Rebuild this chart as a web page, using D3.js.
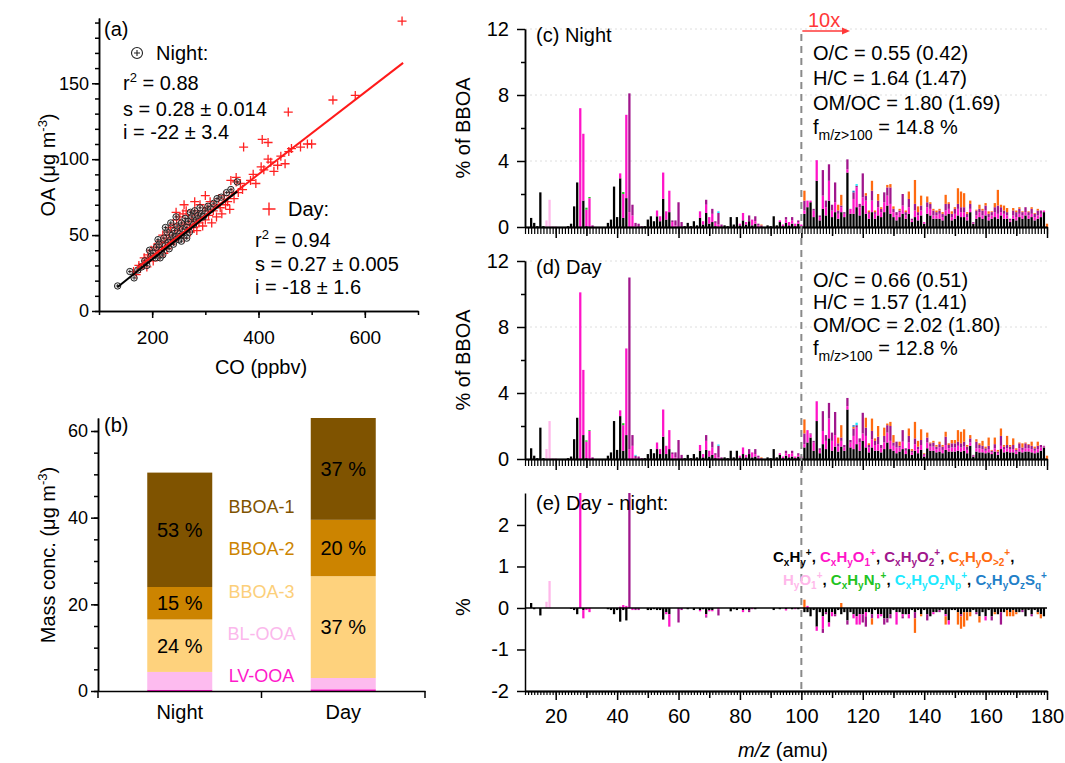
<!DOCTYPE html>
<html><head><meta charset="utf-8">
<script src="https://cdn.jsdelivr.net/npm/d3@7/dist/d3.min.js"></script>
<style>
html,body{margin:0;padding:0;background:#fff;}
svg{display:block;font-family:"Liberation Sans",Arial,Helvetica,sans-serif;}
</style></head>
<body>
<svg id="chart" width="1065" height="763"></svg>
<script>
// ================= DATA =================
// (a) OA vs CO scatter
const nightCO = [135,158,166,173,180,186,190,195,198,202,206,208,211,213,215,218,220,222,225,228,230,232,235,238,240,242,245,247,250,252,255,257,260,262,265,268,270,272,275,278,280,283,286,290,293,296,300,305,310,316,322,330,340,348,360,245,235,225,255,265];
const nightOA = [16.5,26,21.8,27,29,33,30,40,36,38,35,42,47,44,35,40,37,48,43,52,45,41,47,50,44,53,49,56,47,51,58,54,50,61,55,59,52,65,62,57,66,60,63,68,64,62,66,69,67,71,74,75,78,80,85,62,58,55,46,48];
const dayPoints = [[165,26],[170,24],[175,30],[178,28],[182,31],[185,35],[188,33],[190,29],[192,37],[195,34],[198,40],[200,36],[202,33],[205,42],[207,38],[210,44],[212,40],[214,36],[216,46],[218,42],[220,50],[222,38],[224,45],[226,48],[228,41],[230,52],[232,47],[234,55],[236,44],[238,50],[240,57],[242,46],[244,53],[246,60],[248,49],[250,55],[252,62],[254,51],[256,57],[258,64],[260,48],[262,58],[264,66],[266,54],[268,61],[270,57],[272,52],[274,63],[276,59],[278,55],[280,66],[282,60],[284,53],[286,64],[288,58],[290,70],[292,62],[295,56],[298,66],[300,60],[303,68],[306,63],[309,72],[312,58],[315,66],[318,70],[321,62],[325,74],[328,68],[331,64],[335,76],[338,70],[342,72],[346,67],[350,78],[354,74],[358,85],[362,78],[366,84],[370,80],[358,88],[348,86],[372,108],[385,86],[390,90],[395,84],[405,95],[410,93],[418,100],[423,98],[429,92],[436,96],[442,102],[450,97],[456,131],[457,105],[462,107],[479,108],[492,110],[407,113],[418,111],[500,110],[540,139],[582,142],[670,191],[300,76],[280,72],[260,70],[245,65]];
const nightFit = {slope:0.28, intercept:-22, from:135, to:360};
const dayFit = {slope:0.27, intercept:-18, from:172, to:672};

// (b) stacked mass concentrations
const factors = ["LV-OOA","BL-OOA","BBOA-3","BBOA-2","BBOA-1"];
const periods = ["Night","Day"];
const nightMass = [0.3,4.1,12.1,7.5,26.4];
const dayMass = [0.4,2.6,23.5,13.0,23.5];
const nightPct = ["","","24 %","15 %","53 %"];
const dayPct = ["","","37 %","20 %","37 %"];
const legendOrder = ["BBOA-1","BBOA-2","BBOA-3","BL-OOA","LV-OOA"];

// (c)-(e) mass spectra, m/z 12..180 ; values above m/z 100 shown x10
const mzValues = d3.range(12,181);
const nightCH = [
.55,.25,.05,2.1,.05,0,0,0,0,0,
0,0,.05,.2,1.25,2.7,0,1.6,.05,0,
0,0,0,0,0,.25,.45,2.45,.6,2.95,
.55,1.75,0,0,0,0,0,.05,.45,.65,
.35,.65,.35,1.7,.45,.9,0,0,0,0,
.05,.25,.05,.35,.1,.55,.15,.85,.2,.3,
.05,0,0,.1,.05,.6,.15,.6,.1,.4,
.15,.35,.1,.2,0,0,0,.1,.05,.65,
.1,.3,.05,.25,.1,.2,.05,.2,.05,.8,
1.2,1.5,.6,2.8,.4,1.1,.7,1.6,.6,.9,
.5,.9,.6,3.3,.8,.8,1.2,.7,1.3,.8,
.5,.9,.5,.7,.6,.9,1.3,.8,.6,.4,
.6,.8,.5,.8,.3,.6,.4,.7,.2,.8,
.7,.5,.5,.5,.4,.7,.8,.4,.5,.7,
.6,.6,.4,.9,.2,.5,.6,.5,.7,.4,
.5,.6,.5,.7,.5,.5,.3,.5,.4,.6,
.5,.7,.5,.6,.4,.5,.6,.9,0];
const nightO1 = [
0,0,0,0,0,0,0,0,0,0,
0,0,0,0,0,0,7.2,4.05,1.0,1.75,
0,0,0,0,0,0,0,0,0,.3,
1.45,5.05,.9,.7,.05,0,0,0,0,0,
0,.35,.3,1.6,.5,1.3,.3,.1,0,0,
0,0,0,0,0,.4,.2,.5,.4,.5,
.2,.15,0,0,0,0,0,0,.1,.45,
.15,0,.35,.15,.1,0,0,0,0,0,
0,.1,.1,.2,.2,.2,.15,.1,.1,.2,
.4,.1,.4,1.25,.2,.8,.5,1.2,.4,.6,
.3,.3,.2,.2,.3,.9,1.2,.5,.5,.8,
.3,.7,.3,.5,.3,.6,.6,.6,.3,.3,
.3,.5,.2,.4,.1,.4,.3,.3,.1,.4,
.4,.2,.2,.3,.2,.3,.3,.2,.3,.4,
.3,.3,.2,.2,.05,.2,.3,.2,.3,.2,
.2,.3,.3,.2,.3,.2,.1,.2,.2,.2,
.2,.2,.2,.2,.2,.2,.2,.1,0];
const nightO2 = [
0,0,0,0,0,0,0,0,0,0,
0,0,0,0,0,0,0,0,0,0,
.1,0,0,0,0,0,0,0,0,0,
0,0,7.2,.65,.2,.2,.05,0,0,0,
0,0,0,0,0,0,.1,.3,1.5,.3,
0,0,0,0,0,0,0,.3,0,.3,
.1,.7,.15,0,0,0,0,0,0,0,
0,.35,0,.3,.1,.1,0,0,0,0,
0,0,0,.15,0,.2,0,.1,0,.6,
0,0,.1,0,.1,1.55,.4,1.0,.35,1.2,
.2,.1,.1,.6,0,.4,.1,.2,1.45,.3,
.1,.6,.1,.4,.2,.6,.5,1.0,.2,.2,
.1,.7,.2,.5,.1,.4,.2,.3,0,.3,
.3,.3,.2,.2,.2,.4,.3,.2,.3,.3,
.3,.3,.2,.3,.05,.3,.2,.3,.3,.2,
.2,.3,.5,.3,.2,.2,.1,.3,.3,.3,
.2,.3,.2,.3,.2,.3,.2,0,0];
const nightOgt2 = [
0,0,0,0,0,0,0,0,0,0,
0,0,0,0,0,0,0,0,0,0,
0,0,0,0,0,0,0,0,0,0,
0,0,0,0,0,0,0,0,0,0,
0,0,0,0,0,0,0,0,0,0,
0,0,0,0,0,0,0,0,0,0,
0,0,0,0,0,0,0,0,0,0,
0,0,0,0,0,.05,0,0,0,0,
0,0,0,0,0,0,0,0,0,.6,
0,0,0,0,0,0,0,0,0,0,
.35,.65,0,0,0,0,0,0,0,.15,
.1,.6,.1,.4,.1,0,.15,.2,.15,0,
.1,0,.1,.45,0,1.45,.35,.6,0,.35,
.1,.1,.1,.1,.1,.55,.1,.15,.1,.95,
.95,.85,.1,.2,0,.05,.25,.1,.15,.15,
.05,.25,.95,.15,.3,.25,0,.15,.1,.1,
.05,0,.05,.1,.05,.1,0,0,.2];
const nightHO = [[17,.4],[18,1.65],[19,.05],[20,.05]];
const nightCHN = [[30,.12],[31,.07],[42,.12]];
const nightCHON = [[73,.1],[118,.1]];
const nightCHOS = [[117,.1]];

const dayCH = [
.65,.2,.05,1.9,.05,0,0,0,0,0,
0,0,.05,.15,1.2,2.5,0,1.45,.05,0,
0,0,0,0,0,.2,.4,2.3,.55,2.6,
.5,1.45,0,0,0,0,0,.05,.3,.6,
.35,.6,.3,1.35,.3,.6,0,0,0,0,
.05,.25,.05,.3,.1,.5,.1,.55,.15,.25,
.05,0,0,.1,.05,.5,.1,.5,.1,.3,
.1,.3,.1,.15,0,0,0,.1,.05,.6,
.1,.25,.05,.2,.1,.15,.05,.15,.05,.7,
1.0,1.3,.5,2.3,.35,.9,.6,1.25,.5,.75,
.45,.75,.5,3.0,.7,.6,.9,.5,1.1,.7,
.4,.7,.5,.5,.4,.6,1.0,.6,.5,.35,
.45,.6,.3,.6,.25,.5,.35,.55,.15,.65,
.5,.5,.4,.45,.35,.55,.45,.45,.45,.5,
.45,.5,.35,.8,.15,.45,.4,.4,.35,.4,
.3,.45,.25,.6,.4,.45,.4,.4,.3,.45,
.4,.45,.45,.4,.35,.4,.5,.7,0];
const dayO1 = [
0,0,0,0,0,0,0,0,0,0,
0,0,0,0,0,0,10.1,3.95,1.0,1.7,
0,0,0,0,0,0,0,0,0,.35,
1.55,5.25,.6,.8,.05,0,0,0,0,0,
0,.4,.3,1.65,.5,1.15,.3,.1,0,0,
0,0,0,0,0,.35,.2,.55,.35,.45,
.2,.1,0,0,0,0,0,0,.1,.4,
.15,0,.3,.15,.1,0,0,0,0,0,
0,.1,.1,.15,.2,.2,.1,.1,.1,.2,
.75,.2,.5,1.2,.2,.8,.5,1.2,.6,.7,
.3,.35,.2,.2,.3,.8,1.0,.5,.45,.7,
.3,.5,.35,.4,.25,.4,.6,.5,.3,.35,
.25,.45,.2,.4,.15,.4,.25,.3,.1,.35,
.25,.25,.2,.25,.2,.3,.2,.25,.25,.3,
.25,.25,.2,.2,.05,.2,.25,.2,.15,.2,
.1,.2,.1,.2,.2,.2,.2,.2,.15,.2,
.15,.2,.2,.2,.15,.2,.2,.05,0];
const dayO2 = [
0,0,0,0,0,0,0,0,0,0,
0,0,0,0,0,0,0,0,0,0,
.1,0,0,0,0,0,0,0,0,0,
0,0,10.4,.65,.15,.15,.05,0,0,0,
0,0,0,0,0,0,.1,.3,1.15,.25,
0,0,0,0,0,0,0,.35,0,.35,
.1,.7,.1,0,0,0,0,0,0,0,
0,.3,0,.3,.1,.05,0,0,0,0,
0,0,0,.15,0,.15,0,.1,0,.65,
0,.05,.1,0,.1,1.2,.35,.95,.5,1.4,
.2,.2,.15,.5,.15,.45,.15,.25,1.25,.5,
.15,.5,.25,.45,.2,.4,.45,.9,.2,.35,
.1,.7,.15,.4,.1,.35,.15,.3,.05,.3,
.2,.25,.15,.2,.2,.5,.2,.25,.25,.25,
.25,.3,.2,.25,.05,.4,.2,.2,.15,.2,
.1,.25,.1,.6,.15,.2,.15,.25,.1,.3,
.15,.3,.2,.2,.15,.2,.15,.05,0];
const dayOgt2 = [
0,0,0,0,0,0,0,0,0,0,
0,0,0,0,0,0,0,0,0,0,
0,0,0,0,0,0,0,0,0,0,
0,0,0,0,0,0,0,0,0,0,
0,0,0,0,0,0,0,0,0,0,
0,0,0,0,0,0,0,0,0,0,
0,0,0,0,0,0,0,0,0,0,
0,0,0,0,0,.05,0,0,0,0,
0,0,0,0,0,0,0,0,0,.85,
0,0,0,0,0,0,0,0,0,0,
.35,.75,0,0,0,.1,0,0,0,.6,
.1,.75,.15,.65,0,.5,.1,.25,.45,0,
.25,0,0,.45,.1,1.0,.35,.65,.05,.3,
.05,.1,.1,.15,.1,.3,.1,.2,.2,.7,
.7,.75,.1,.2,0,.15,.1,.3,.1,.5,
.05,.4,.1,.45,.1,.55,.1,.4,.1,.05,
.25,.05,.05,.25,.1,.25,0,0,.2];
const dayHO = [[17,.6],[18,2.3],[19,.05],[20,.05]];
const dayCHN = [[30,.08],[31,.05],[42,.12]];
const dayCHON = [[46,.05],[73,.08],[118,.15]];
const dayCHOS = [[117,.1]];

const diffCH = [
.12,-.03,0,-.18,0,0,0,0,0,0,
0,0,0,-.02,-.05,-.15,0,-.05,0,0,
0,0,0,0,0,-.03,-.05,-.15,-.05,-.33,
-.05,-.3,0,0,0,0,0,0,-.05,-.05,
-.03,-.05,-.05,-.28,-.1,-.15,0,0,0,0,
0,-.03,0,-.05,0,-.05,-.03,-.15,-.05,-.05,
0,0,0,0,0,-.08,-.03,-.05,0,-.05,
-.03,-.05,0,-.03,0,0,0,0,0,-.05,
0,-.03,0,-.03,0,-.03,0,-.03,0,-.1,
-.1,-.2,-.05,-.45,-.1,-.2,-.1,-.35,-.1,-.15,
-.05,-.15,-.1,-.3,-.1,-.15,-.2,-.15,-.15,-.1,
-.1,-.15,-.05,-.15,-.15,-.25,-.25,-.15,-.05,-.1,
-.1,-.15,-.15,-.15,-.05,-.1,-.05,-.15,-.05,-.15,
-.2,-.1,-.1,-.05,-.05,-.15,-.3,-.05,-.05,-.1,
-.15,-.1,-.1,-.1,-.05,-.1,-.2,-.1,-.2,-.05,
-.2,-.1,-.15,-.1,-.1,-.05,-.1,-.05,-.1,-.1,
-.05,-.2,-.05,-.15,-.05,-.1,-.15,-.2,0];
const diffO1 = [
0,0,0,0,0,0,0,0,0,0,
0,0,0,0,0,0,2.9,-.2,-.05,-.1,
0,0,0,0,0,0,0,0,0,.03,
.07,.05,0,-.05,0,0,0,0,0,0,
0,0,0,0,-.05,-.3,0,0,0,0,
0,0,0,0,0,-.03,0,-.05,-.03,-.03,
0,-.03,0,0,0,0,0,0,0,-.05,
0,0,-.03,0,0,0,0,0,0,0,
0,0,0,-.03,0,0,-.03,0,0,0,
.05,0,0,-.1,0,-.3,0,-.1,-.1,0,
0,0,0,0,0,-.1,-.2,-.25,0,-.1,
0,0,0,-.1,-.05,0,0,0,0,-.3,
0,-.05,0,-.1,0,0,0,0,0,0,
0,-.05,0,0,0,-.05,-.1,0,0,0,
0,0,0,0,0,0,0,0,-.1,0,
0,0,0,0,0,0,0,0,0,0,
0,0,0,0,0,0,0,0,0];
const diffO2 = [
0,0,0,0,0,0,0,0,0,0,
0,0,0,0,0,0,0,0,0,0,
0,0,0,0,0,0,0,0,0,0,
0,0,3.2,0,-.05,-.05,0,0,0,0,
0,0,0,0,0,0,0,0,-.35,-.05,
0,0,0,0,0,0,0,-.03,0,0,
0,-.15,0,0,0,0,0,0,0,0,
0,-.05,0,0,0,0,0,0,0,0,
0,0,0,0,0,0,0,0,0,0,
0,0,0,0,0,-.1,-.05,0,0,-.05,
0,0,0,-.1,0,0,0,0,-.2,-.25,
0,-.1,0,0,0,-.15,-.1,-.1,0,0,
0,-.05,0,0,0,-.15,0,0,0,-.15,
0,0,0,-.05,0,0,0,0,0,0,
-.05,0,0,0,0,-.05,0,0,0,0,
-.1,0,0,-.3,0,0,0,0,0,0,
-.05,0,0,-.05,0,0,0,0,0];
const diffOgt2 = [
0,0,0,0,0,0,0,0,0,0,
0,0,0,0,0,0,0,0,0,0,
0,0,0,0,0,0,0,0,0,0,
0,0,0,0,0,0,0,0,0,0,
0,0,0,0,0,0,0,0,0,0,
0,0,0,0,0,0,0,0,0,0,
0,0,0,0,0,0,0,0,0,0,
0,0,0,0,0,0,0,0,0,0,
0,0,0,0,0,0,0,0,0,.2,
0,0,0,0,0,0,0,0,0,0,
0,.12,0,0,0,0,0,0,0,0,
0,-.15,0,0,0,0,0,0,0,0,
0,0,0,0,0,-.35,0,-.05,0,0,
0,0,0,0,0,-.2,0,0,0,-.3,
-.3,-.35,-.2,-.1,0,0,-.15,0,0,0,
0,-.05,0,0,0,-.15,-.1,-.15,-.05,0,
0,0,0,0,0,-.05,-.1,0,0];
const diffHO = [[17,.15],[18,.65]];

const nightStats = ["O/C = 0.55 (0.42)","H/C = 1.64 (1.47)","OM/OC = 1.80 (1.69)"," = 14.8 %"];
const dayStats = ["O/C = 0.66 (0.51)","H/C = 1.57 (1.41)","OM/OC = 2.02 (1.80)"," = 12.8 %"];

// ================= STYLE =================
const famKeys = ["CH","O1","O2","Ogt2","HO","N","ON","OS"];
const famColor = {CH:"#000000",O1:"#ff14c8",O2:"#a0168c",Ogt2:"#ff6a10",HO:"#ffb8ea",N:"#22c322",ON:"#1de9ff",OS:"#1f80c8"};
const factorColor = {"BBOA-1":"#7f5300","BBOA-2":"#cc8400","BBOA-3":"#fed27d","BL-OOA":"#fdbbef","LV-OOA":"#ff1acb"};
const legendTextColor = {"BBOA-1":"#7f5300","BBOA-2":"#cc8400","BBOA-3":"#fccf7a","BL-OOA":"#fbb8ec","LV-OOA":"#ff1acb"};

const svg = d3.select("#chart");

function styleAxis(g, fs){
  g.attr("font-family", null).attr("font-size", null);
  g.selectAll(".domain").attr("stroke","#000").attr("stroke-width",1.5);
  g.selectAll(".tick line").attr("stroke","#000").attr("stroke-width",1.5);
  g.selectAll(".tick text").attr("fill","#000").style("font-size", fs+"px");
}
function rich(textSel, parts, fs){
  let shift = 0;
  parts.forEach(p=>{
    const small = p.size || Math.round(fs*0.68);
    let target = 0;
    if (p.sup) target = -fs*0.42;
    if (p.sub) target = fs*0.28;
    textSel.append("tspan").attr("dy", (target-shift).toFixed(2))
      .style("font-size", (p.sup||p.sub) ? small+"px" : fs+"px")
      .attr("fill", p.color || null)
      .text(p.t);
    shift = target;
  });
}
function parseFormula(s, color){
  const out=[]; const re=/\{([^}]*)\}|\[([^\]]*)\]|([^{\[]+)/g; let m;
  while((m=re.exec(s))){
    if(m[1]!==undefined) out.push({t:m[1],sub:true,color});
    else if(m[2]!==undefined) out.push({t:m[2],sup:true,color});
    else out.push({t:m[3],color});
  }
  return out;
}

// ================= PANEL (a) =================
const xA = d3.scaleLinear().domain([100,700]).range([99,418]);
const yA = d3.scaleLinear().domain([0,193]).range([311,18]);
const gA = svg.append("g");
gA.append("g").attr("transform","translate(0,311)")
  .call(d3.axisBottom(xA).tickValues(d3.range(100,701,100)).tickSize(4).tickSizeOuter(0).tickFormat(""))
  .call(g=>styleAxis(g,19));
gA.append("g").attr("transform","translate(0,311)")
  .call(d3.axisBottom(xA).tickValues([200,400,600]).tickSize(7).tickPadding(13).tickSizeOuter(0))
  .call(g=>styleAxis(g,19));
gA.append("g").attr("transform","translate(99,0)")
  .call(d3.axisLeft(yA).tickValues(d3.range(0,191,10)).tickSize(4).tickSizeOuter(0).tickFormat(""))
  .call(g=>styleAxis(g,18));
gA.append("g").attr("transform","translate(99,0)")
  .call(d3.axisLeft(yA).tickValues([0,50,100,150]).tickSize(7).tickPadding(3).tickSizeOuter(0))
  .call(g=>styleAxis(g,18));

const crossPath = h => `M${-h},0H${h}M0,${-h}V${h}`;
gA.append("g").selectAll("path").data(dayPoints).join("path")
  .attr("transform", d=>`translate(${xA(d[0])},${yA(d[1])})`)
  .attr("d", crossPath(4.5)).attr("stroke","#ff2222").attr("stroke-width",1.3).attr("fill","none");
const nightG = gA.append("g").selectAll("g").data(nightCO.map((c,i)=>[c,nightOA[i]])).join("g")
  .attr("transform", d=>`translate(${xA(d[0])},${yA(d[1])})`);
nightG.append("circle").attr("r",3.2).attr("fill","#bbb").attr("fill-opacity",0.35).attr("stroke","#222").attr("stroke-width",1);
nightG.append("path").attr("d",crossPath(1.8)).attr("stroke","#222").attr("stroke-width",0.9);

[[dayFit,"#ff1a1a"],[nightFit,"#000"]].forEach(([f,c])=>{
  gA.append("line")
    .attr("x1",xA(f.from)).attr("y1",yA(f.slope*f.from+f.intercept))
    .attr("x2",xA(f.to)).attr("y2",yA(f.slope*f.to+f.intercept))
    .attr("stroke",c).attr("stroke-width",2);
});
gA.append("text").attr("x",104).attr("y",36).style("font-size","20px").text("(a)");
const lgN = gA.append("g").attr("transform","translate(137,53)");
lgN.append("circle").attr("r",5.5).attr("fill","none").attr("stroke","#222").attr("stroke-width",1.1);
lgN.append("path").attr("d",crossPath(3)).attr("stroke","#222").attr("stroke-width",1.1);
gA.append("text").attr("x",156).attr("y",60).style("font-size","20px").text("Night:");
rich(gA.append("text").attr("x",123).attr("y",90), [{t:"r"},{t:"2",sup:true,size:13},{t:" = 0.88"}], 20);
gA.append("text").attr("x",123).attr("y",116).style("font-size","20px").text("s = 0.28 \u00b1 0.014");
gA.append("text").attr("x",123).attr("y",139).style("font-size","20px").text("i = -22 \u00b1 3.4");
gA.append("path").attr("transform","translate(269,209)").attr("d",crossPath(6.5)).attr("stroke","#ff2222").attr("stroke-width",1.4);
gA.append("text").attr("x",288).attr("y",216).style("font-size","20px").text("Day:");
rich(gA.append("text").attr("x",255).attr("y",247), [{t:"r"},{t:"2",sup:true,size:13},{t:" = 0.94"}], 20);
gA.append("text").attr("x",255).attr("y",271).style("font-size","20px").text("s = 0.27 \u00b1 0.005");
gA.append("text").attr("x",255).attr("y",294).style("font-size","20px").text("i = -18 \u00b1 1.6");
gA.append("text").attr("x",261).attr("y",374).attr("text-anchor","middle").style("font-size","20px").text("CO (ppbv)");
rich(gA.append("text").attr("transform","translate(55,165) rotate(-90)").attr("text-anchor","middle"),
  [{t:"OA (\u03bcg m"},{t:"-3",sup:true,size:13},{t:")"}], 20);

// ================= PANEL (b) =================
const xB = d3.scaleBand().domain(periods).range([98,425]);
const yB = d3.scaleLinear().domain([0,63]).range([691,418]);
const barW = 65;
const gB = svg.append("g");
const massTable = periods.map(p=>{
  const vals = p==="Night" ? nightMass : dayMass;
  const r = {period:p}; factors.forEach((f,i)=>r[f]=vals[i]); return r;
});
const stackB = d3.stack().keys(factors)(massTable);
stackB.forEach((layer,li)=>{
  gB.append("g").selectAll("rect").data(layer).join("rect")
    .attr("x", d=>xB(d.data.period)+xB.bandwidth()/2-barW/2)
    .attr("width", barW)
    .attr("y", d=>yB(d[1]))
    .attr("height", d=>yB(d[0])-yB(d[1]))
    .attr("fill", factorColor[layer.key]);
  gB.append("g").selectAll("text").data(layer).join("text")
    .attr("x", d=>xB(d.data.period)+xB.bandwidth()/2)
    .attr("y", d=>yB((d[0]+d[1])/2)+7)
    .attr("text-anchor","middle").style("font-size","20px")
    .text(d=> (d.data.period==="Night" ? nightPct : dayPct)[li]);
});
gB.append("g").attr("transform","translate(98,0)")
  .call(d3.axisLeft(yB).tickValues(d3.range(0,61,5)).tickSize(4).tickSizeOuter(0).tickFormat(""))
  .call(g=>styleAxis(g,18));
gB.append("g").attr("transform","translate(98,0)")
  .call(d3.axisLeft(yB).tickValues([0,20,40,60]).tickSize(7).tickPadding(3).tickSizeOuter(0))
  .call(g=>styleAxis(g,18));
const gBx = gB.append("g").attr("transform","translate(0,691)")
  .call(d3.axisBottom(xB).tickSize(0).tickSizeOuter(0).tickPadding(14))
  .call(g=>styleAxis(g,19));
gBx.selectAll(".tick text").style("font-size","20px");
[xB("Night"), xB("Day"), xB("Day")+xB.bandwidth()].forEach(x=>{
  gB.append("line").attr("x1",x).attr("x2",x).attr("y1",691).attr("y2",698).attr("stroke","#000").attr("stroke-width",1.5);
});
legendOrder.forEach((f,i)=>{
  gB.append("text").attr("x",xB("Day")).attr("y",513+i*42.3).attr("text-anchor","middle")
    .style("font-size","18px").attr("fill",legendTextColor[f]).text(f);
});
gB.append("text").attr("x",104).attr("y",432).style("font-size","20px").text("(b)");
rich(gB.append("text").attr("transform","translate(55,555) rotate(-90)").attr("text-anchor","middle"),
  [{t:"Mass conc. (\u03bcg m"},{t:"-3",sup:true,size:13},{t:")"}], 20);

// ================= PANELS (c)(d)(e) =================
const xS = d3.scaleLinear().domain([10,180]).range([525,1047]);
const bw = (xS(11)-xS(10))*0.74;
function buildRows(CH,O1,O2,Ogt2,HO,N,ON,OS){
  const sp = {HO,N,ON,OS};
  return mzValues.map((mz,i)=>{
    const r = {mz, CH:CH[i], O1:O1[i], O2:O2[i], Ogt2:Ogt2[i]};
    ["HO","N","ON","OS"].forEach(k=>{ const f=(sp[k]||[]).find(p=>p[0]===mz); r[k]=f?f[1]:0; });
    return r;
  });
}
const panels = [
  {key:"c", rows:buildRows(nightCH,nightO1,nightO2,nightOgt2,nightHO,nightCHN,nightCHON,nightCHOS),
   y:d3.scaleLinear().domain([0,12]).range([227,29]), major:[0,4,8,12], minor:[2,6,10], grid:[4,8,12],
   title:"(c) Night", titleY:42, stats:nightStats, statsY:[60,85,110,134], ylab:"% of BBOA", ylabY:128, zeroY:227},
  {key:"d", rows:buildRows(dayCH,dayO1,dayO2,dayOgt2,dayHO,dayCHN,dayCHON,dayCHOS),
   y:d3.scaleLinear().domain([0,12]).range([459,261]), major:[0,4,8,12], minor:[2,6,10], grid:[4,8,12],
   title:"(d) Day", titleY:274, stats:dayStats, statsY:[287,309,332,355], ylab:"% of BBOA", ylabY:360, zeroY:459},
  {key:"e", rows:buildRows(diffCH,diffO1,diffO2,diffOgt2,diffHO,[],[],[]),
   y:d3.scaleLinear().domain([-2,2.77]).range([691,493]), major:[-2,-1,0,1,2], minor:[], grid:[],
   title:"(e) Day - night:", titleY:510, stats:null, ylab:"%", ylabY:607, zeroY:608, diverging:true}
];

const defs = svg.append("defs");
panels.forEach(P=>{
  const g = svg.append("g");
  const [yBot,yTop] = P.y.range();
  P.grid.forEach(v=>{
    g.append("line").attr("x1",525).attr("x2",1047).attr("y1",P.y(v)).attr("y2",P.y(v))
      .attr("stroke","#dedede").attr("stroke-width",1).attr("stroke-dasharray","2,3");
  });
  const clipId = "clip"+P.key;
  defs.append("clipPath").attr("id",clipId).append("rect")
    .attr("x",520).attr("y",yTop).attr("width",535).attr("height",yBot-yTop);
  const st = d3.stack().keys(famKeys);
  if (P.diverging) st.offset(d3.stackOffsetDiverging);
  const series = st(P.rows);
  const bars = g.append("g").attr("clip-path",`url(#${clipId})`);
  series.forEach(layer=>{
    bars.append("g").selectAll("rect").data(layer.filter(d=>Math.abs(d[1]-d[0])>1e-9)).join("rect")
      .attr("x", d=>xS(d.data.mz)-bw/2).attr("width", bw)
      .attr("y", d=>P.y(Math.max(d[0],d[1])))
      .attr("height", d=>Math.abs(P.y(d[0])-P.y(d[1])))
      .attr("fill", famColor[layer.key]);
  });
  if (P.minor.length) g.append("g").attr("transform","translate(525,0)")
    .call(d3.axisLeft(P.y).tickValues(P.minor).tickSize(4).tickSizeOuter(0).tickFormat(""))
    .call(a=>styleAxis(a,20));
  g.append("g").attr("transform","translate(525,0)")
    .call(d3.axisLeft(P.y).tickValues(P.major).tickSize(8).tickPadding(8).tickSizeOuter(0).tickFormat(d=>String(d)))
    .call(a=>styleAxis(a,20));
  const axisY = P.diverging ? 691 : P.zeroY;
  const minorLen = P.diverging ? 4 : 7, midLen = P.diverging ? 7 : 9, majLen = P.diverging ? 9 : 11;
  g.append("g").attr("transform",`translate(0,${axisY})`)
    .call(d3.axisBottom(xS).tickValues(d3.range(10,181,1)).tickSize(minorLen).tickSizeOuter(0).tickFormat(""))
    .call(a=>{styleAxis(a,20); a.selectAll(".tick line").attr("stroke-width",1.2);});
  g.append("g").attr("transform",`translate(0,${axisY})`)
    .call(d3.axisBottom(xS).tickValues(d3.range(30,180,20)).tickSize(midLen).tickSizeOuter(0).tickFormat(""))
    .call(a=>styleAxis(a,20));
  g.append("g").attr("transform",`translate(0,${axisY})`)
    .call(d3.axisBottom(xS).tickValues(d3.range(20,181,20)).tickSize(majLen).tickPadding(9).tickSizeOuter(0)
      .tickFormat(P.diverging ? (d=>String(d)) : ""))
    .call(a=>styleAxis(a,20));
  if (P.diverging) {
    g.append("line").attr("x1",525).attr("x2",1047).attr("y1",P.y(0)).attr("y2",P.y(0))
      .attr("stroke","#000").attr("stroke-width",1.5);
  }
  g.append("text").attr("x",536).attr("y",P.titleY).style("font-size","20px").text(P.title);
  g.append("text").attr("transform",`translate(470,${P.ylabY}) rotate(-90)`).attr("text-anchor","middle")
    .style("font-size","20px").text(P.ylab);
  if (P.stats) {
    P.stats.slice(0,3).forEach((s,i)=>{
      g.append("text").attr("x",813).attr("y",P.statsY[i]).style("font-size","20px").text(s);
    });
    rich(g.append("text").attr("x",813).attr("y",P.statsY[3]),
      [{t:"f"},{t:"m/z>100",sub:true,size:14},{t:P.stats[3]}], 20);
  }
});

// dashed separator at m/z 100 and "10x" marker
svg.append("line").attr("x1",xS(100)).attr("x2",xS(100)).attr("y1",34).attr("y2",691)
  .attr("stroke","#8a8a8a").attr("stroke-width",2).attr("stroke-dasharray","7,5");
svg.append("text").attr("x",808).attr("y",27).attr("fill","#ff3838").style("font-size","20px").text("10x");
svg.append("line").attr("x1",xS(100)+1).attr("x2",843).attr("y1",31).attr("y2",31).attr("stroke","#ff3838").attr("stroke-width",1.6);
svg.append("path").attr("d","M842,27.5L850,31L842,34.5Z").attr("fill","#ff3838");

const xl = svg.append("text").attr("x",783).attr("y",757).attr("text-anchor","middle").style("font-size","20px");
xl.append("tspan").style("font-style","italic").text("m/z");
xl.append("tspan").text("  (amu)");

// legend in (e)
const legendLine1 = [["C{x}H{y}[+]",famColor.CH],["C{x}H{y}O{1}[+]",famColor.O1],["C{x}H{y}O{2}[+]",famColor.O2],["C{x}H{y}O{>2}[+]",famColor.Ogt2]];
const legendLine2 = [["H{y}O{1}[+]",famColor.HO],["C{x}H{y}N{p}[+]",famColor.N],["C{x}H{y}O{z}N{p}[+]",famColor.ON],["C{x}H{y}O{z}S{q}[+]",famColor.OS]];
[[legendLine1,773,562,true],[legendLine2,783,585,false]].forEach(([items,x,y,trail])=>{
  const t = svg.append("text").attr("x",x).attr("y",y).style("font-weight","bold");
  let parts=[];
  items.forEach((it,i)=>{
    parts = parts.concat(parseFormula(it[0], it[1]));
    if (i<items.length-1 || trail) parts.push({t:", ", color:"#000"});
  });
  rich(t, parts.map(p=>Object.assign({size:10},p)), 15);
});
</script>
</body></html>
